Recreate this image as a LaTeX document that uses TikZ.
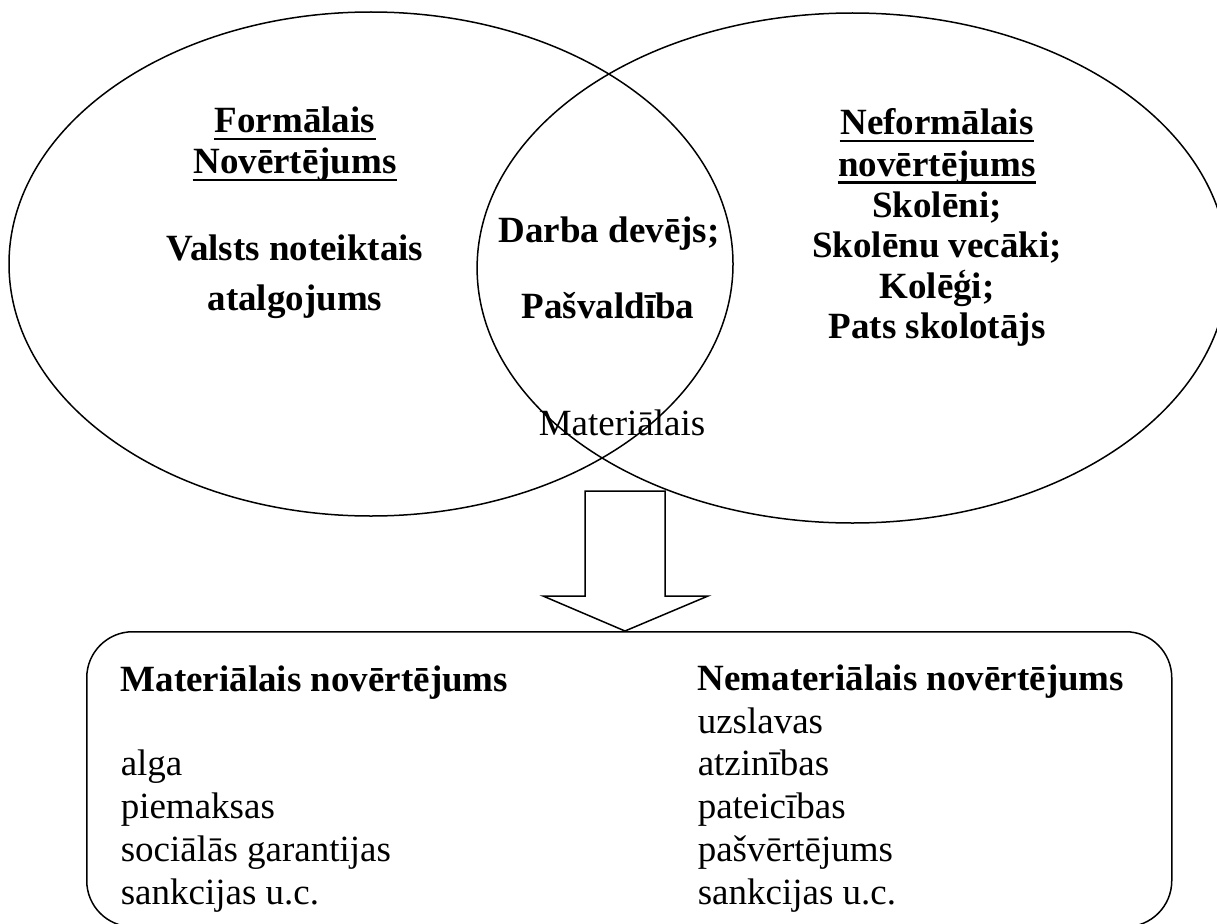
\documentclass[tikz,border=0pt]{standalone}
\usepackage{fontspec}
\setmainfont{Liberation Serif}
\begin{document}
\begin{tikzpicture}[x=1pt,y=-1pt,line width=1.5pt,
  bl/.style={inner sep=0pt,anchor=base,font=\fontsize{37}{42}\selectfont\bfseries},
  rg/.style={inner sep=0pt,anchor=base,font=\fontsize{37}{42}\selectfont},
  bw/.style={inner sep=0pt,anchor=base west,font=\fontsize{37}{42}\selectfont\bfseries},
  rw/.style={inner sep=0pt,anchor=base west,font=\fontsize{37}{42}\selectfont},
  ul/.style={line width=2.5pt}]
\useasboundingbox (0,0) rectangle (1217,923);
\clip (0,0) rectangle (1217,923);
% ellipses
\draw (371,264) ellipse [x radius=362, y radius=252];
\draw (852.5,268) ellipse [x radius=375.4, y radius=255];
% left text
\node[bl] (f1) at (295,132) {Formālais};
\node[bl] (f2) at (295,173) {Novērtējums};
\draw[ul] ([yshift=-7pt]f1.base west) -- ([yshift=-7pt]f1.base east);
\draw[ul] ([yshift=-7pt]f2.base west) -- ([yshift=-7pt]f2.base east);
\node[bl] (v1) at (295,260) {Valsts noteiktais};
\node[bl] (v2) at (295,310) {atalgojums};
% middle text
\node[bl] (d1) at (609,242) {Darba devējs;};
\node[bl] (d2) at (608,318) {Pašvaldība};
\node[rg] (m1) at (622,435) {Materiālais};
% right text
\node[bl] (n1) at (937,135) {Neformālais};
\node[bl] (n2) at (937,176.5) {novērtējums};
\draw[ul] ([yshift=-6pt]n1.base west) -- ([yshift=-6pt]n1.base east);
\draw[ul] ([yshift=-6pt]n2.base west) -- ([yshift=-6pt]n2.base east);
\node[bl] (s1) at (937,217) {Skolēni;};
\node[bl] (s2) at (937,257.5) {Skolēnu vecāki;};
\node[bl] (s3) at (937,298) {Kolēģi;};
\node[bl] (s4) at (937,338.5) {Pats skolotājs};
% bottom box
\node[draw,rounded corners=46pt,minimum width=1085pt,minimum height=295pt,
  anchor=north west,inner sep=0pt] (box) at (86,631) {};
% block arrow
\draw[line join=miter] (585,491) -- (665,491) -- (665,596) -- (708,596)
  -- (625,631) -- (543,596) -- (585,596) -- cycle;
% box texts
\node[bw] (a0) at (120,691) {Materiālais novērtējums};
\node[rw] (a1) at (120,775) {alga};
\node[rw] (a2) at (120,818) {piemaksas};
\node[rw] (a3) at (120,861) {sociālās garantijas};
\node[rw] (a4) at (120,904) {sankcijas u.c.};
\node[bw] (b0) at (697,690) {Nemateriālais novērtējums};
\node[rw] (b1) at (697,733) {uzslavas};
\node[rw] (b2) at (697,775) {atzinības};
\node[rw] (b3) at (697,818) {pateicības};
\node[rw] (b4) at (697,861) {pašvērtējums};
\node[rw] (b5) at (697,904) {sankcijas u.c.};
\end{tikzpicture}
\end{document}
